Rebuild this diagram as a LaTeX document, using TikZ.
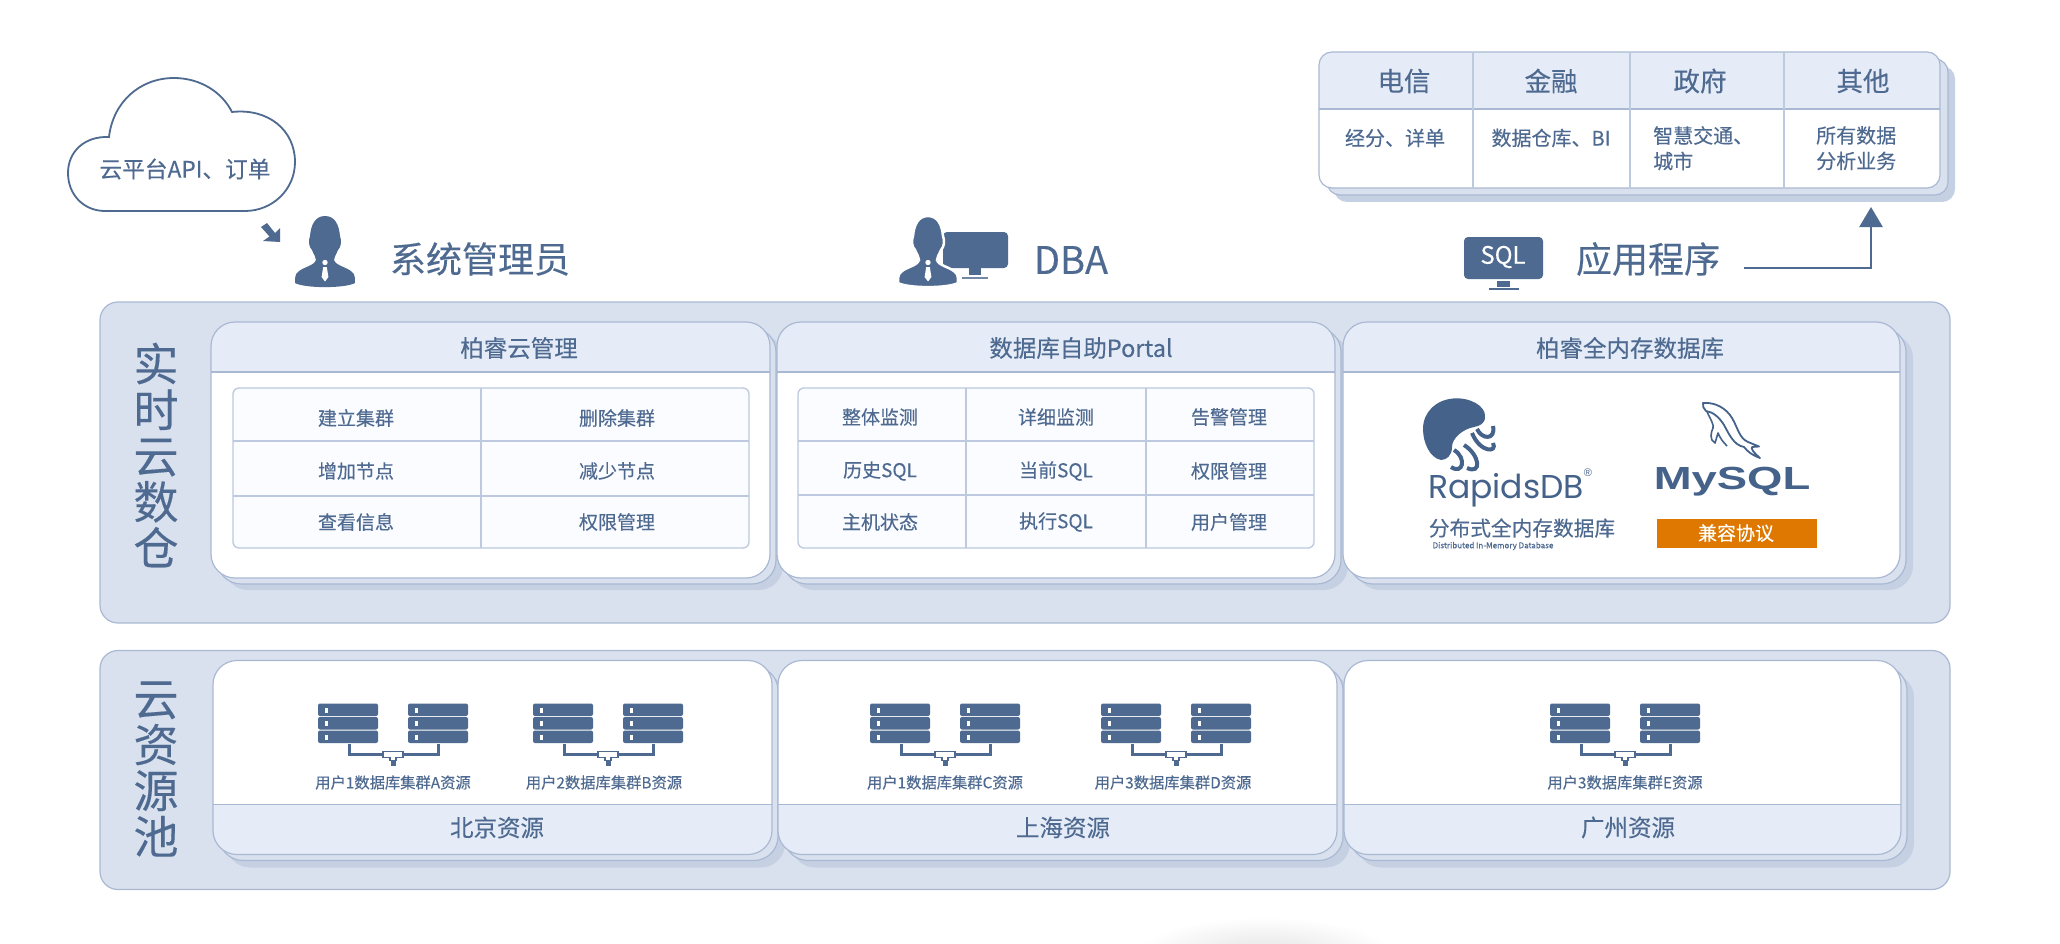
\documentclass[tikz,border=0pt]{standalone}
\usepackage{fontspec}
\setmainfont[FakeBold=0.25]{Noto Sans CJK SC}
\newfontfamily\logofont{Poppins}
\newfontfamily\mysqlfont{Liberation Sans}
\usetikzlibrary{arrows.meta}
\definecolor{ink}{HTML}{4E6A90}
\definecolor{logoink}{HTML}{44628A}
\definecolor{panelc}{HTML}{DAE1EE}
\definecolor{edgec}{HTML}{A9B9D3}
\definecolor{headc}{HTML}{E5ECF7}
\definecolor{shadowc}{HTML}{C5D0E3}
\definecolor{cellc}{HTML}{FBFCFF}
\definecolor{gridc}{HTML}{BCC9DE}
\definecolor{orangec}{HTML}{DE7800}
\tikzset{
  sz/.style={font=\fontsize{#1}{#1}\selectfont},
  txt/.style={text=ink,inner sep=0pt,sz=#1},
  edge/.style={draw=edgec,line width=1.2pt},
  grid/.style={draw=gridc,line width=1.3pt},
  conn/.style={draw=ink,line width=2.5pt,-{Triangle[width=23pt,length=20pt]}}
}
% #1-#4 box, #5 radius, #6 dx2, #7 dy2, #8 dx1, #9 dy1 of the layers
\newcommand{\layers}[9]{%
  \begin{scope}[shift={(#6,#7)}]\fill[shadowc,rounded corners=#5pt] (#1,#2) rectangle (#3,#4);\end{scope}
  \begin{scope}[shift={(#8,#9)}]\filldraw[fill=panelc,edge,rounded corners=#5pt] (#1,#2) rectangle (#3,#4);\end{scope}
  \fill[white,rounded corners=#5pt] (#1,#2) rectangle (#3,#4);}
% #1-#4 box, #5 radius, #6,#7 the y range of the tinted band, #8 y of rule
\newcommand{\bandbox}[8]{%
  \begin{scope}\clip[rounded corners=#5pt] (#1,#2) rectangle (#3,#4);\fill[headc] (#1,#6) rectangle (#3,#7);\end{scope}
  \draw[edge] (#1,#8) -- (#3,#8);
  \draw[edge,rounded corners=#5pt] (#1,#2) rectangle (#3,#4);}
% #1 centre x of a pair of server stacks
\newcommand{\rackrow}[2]{\fill[ink,rounded corners=2pt] (#1,#2) rectangle ++(60,12.5);\fill[white] (#1+6.5,#2+4) rectangle ++(3.5,5);}
\newcommand{\servers}[1]{%
  \foreach \yy in {702,715.5,729}{\rackrow{#1-75}{\yy}\rackrow{#1+15}{\yy}}
  \draw[ink,line width=3pt] (#1-44,742) -- (#1-44,753) -- (#1+45,753) -- (#1+45,742);
  \fill[ink] (#1-2.5,757) rectangle (#1+2.5,764);
  \filldraw[fill=white,draw=ink,line width=1.3pt] (#1-10,750) -- (#1+10,750) -- (#1+10,756) -- (#1+3,756) -- (#1+3,759) -- (#1-3,759) -- (#1-3,756) -- (#1-10,756) -- cycle;}
% silhouette with head centred on x=0
\newcommand{\personpath}{(0,216) .. controls (10,216) and (14,225) .. (15,236) .. controls (17,241) and (16,247) .. (13,250) .. controls (11,255) and (9,257) .. (9,260) .. controls (11,266) and (22,267) .. (27,272) .. controls (30,274) and (30,278) .. (30,283) .. controls (20,288.5) and (-20,288.5) .. (-30,283) .. controls (-30,278) and (-30,274) .. (-27,272) .. controls (-22,267) and (-11,266) .. (-9,260) .. controls (-9,257) and (-11,255) .. (-13,250) .. controls (-16,247) and (-17,241) .. (-15,236) .. controls (-14,225) and (-10,216) .. (0,216) -- cycle}
\newcommand{\tiepath}{(0,262.5) circle (2.7pt) (-1.8,267) -- (1.8,267) -- (3.4,277) -- (0,281.5) -- (-3.4,277) -- cycle}
\begin{document}
\begin{tikzpicture}[x=1pt,y=-1pt]
\useasboundingbox (0,0) rectangle (2060,944);
\fill[white] (0,0) rectangle (2060,944);
% faint glow at the foot
\begin{scope}
\clip (1100,905) rectangle (1430,944);
\shade[inner color=black!11,outer color=white] (1265,955) ellipse (128pt and 38pt);
\end{scope}
% cloud
\draw[ink,line width=1.8pt,fill=white] (109,137) .. controls (113,102) and (140,78) .. (174,78) .. controls (200,78) and (222,92) .. (232,112) .. controls (268,108) and (295,130) .. (295,162) .. controls (295,190) and (272,211) .. (245,211) -- (105,211) .. controls (84,211) and (68,195) .. (68,173) .. controls (68,152) and (84,136) .. (109,137) -- cycle;
\node[txt=22.7] (cloudtext) at (185,169) {云平台API、订单};
\fill[ink] (280,228) -- (280,242) -- (263,241) -- (269.5,236.5) -- (261,227) -- (267,223) -- (275,233) -- cycle;
% admin
\begin{scope}[shift={(325,0)}]
\fill[ink] \personpath;
\fill[white] \tiepath;
\end{scope}
\node[txt=36] (admin) at (480,259) {系统管理员};
% dba
\fill[ink,rounded corners=4pt] (943,232) rectangle (1008,268);
\fill[ink] (969,268) rectangle (981,275);
\fill[ink!80] (962,276.5) rectangle (988,278.5);
\begin{scope}[shift={(928,0)}]
\filldraw[fill=ink,draw=white,line width=2.5pt] \personpath;
\fill[white] \tiepath;
\end{scope}
\node[txt=38] (dba) at (1071,260) {DBA};
% application
\fill[ink,rounded corners=4pt] (1464,237) rectangle (1543,279);
\fill[ink] (1497,281) rectangle (1510,287);
\fill[ink] (1489,287.5) rectangle (1519,289.5);
\node[inner sep=0pt,text=white,sz=24] (sql) at (1503,257) {SQL};
\node[txt=36] (appl) at (1648,259) {应用程序};
% panels
\filldraw[fill=panelc,edge,rounded corners=18pt] (100,302) rectangle (1950,623);
\filldraw[fill=panelc,edge,rounded corners=18pt] (100,650.5) rectangle (1950,889.5);
\node[txt=45,align=center,font=\fontsize{45}{46}\selectfont] (sidea) at (156,455) {实\\时\\云\\数\\仓};
\node[txt=45,align=center,font=\fontsize{45}{46}\selectfont] (sideb) at (156,769) {云\\资\\源\\池};
% upper cards
\layers{211}{322}{770}{578}{24}{13}{12}{6}{6}
\bandbox{211}{322}{770}{578}{24}{322}{372}{372}
\layers{777}{322}{1335}{578}{24}{13}{12}{6}{6}
\bandbox{777}{322}{1335}{578}{24}{322}{372}{372}
\layers{1343}{322}{1900}{578}{24}{13}{12}{6}{6}
\bandbox{1343}{322}{1900}{578}{24}{322}{372}{372}
\node[txt=23.5] (hca) at (519,348) {柏睿云管理};
\node[txt=23.5] (hcb) at (1081,348) {数据库自助Portal};
\node[txt=23.5] (hcc) at (1630,348) {柏睿全内存数据库};
% table one
\filldraw[fill=cellc,grid,rounded corners=6pt] (233,388) rectangle (749,548);
\draw[grid] (233,441) -- (749,441) (233,496) -- (749,496) (481,388) -- (481,548);
\foreach \nm/\xx/\yy/\tt in {a/356/418/建立集群,b/617/418/删除集群,c/356/471/增加节点,d/617/471/减少节点,e/356/522/查看信息,f/617/522/权限管理}
  \node[txt=19] (ta\nm) at (\xx,\yy) {\tt};
% table two
\filldraw[fill=cellc,grid,rounded corners=6pt] (798,388) rectangle (1314,548);
\draw[grid] (798,441) -- (1314,441) (798,495) -- (1314,495) (966,388) -- (966,548) (1146,388) -- (1146,548);
\foreach \nm/\xx/\yy/\tt in {a/880/417/整体监测,b/1056/417/详细监测,c/1229/417/告警管理,d/880/471/历史SQL,e/1056/471/当前SQL,f/1229/471/权限管理,g/880/522/主机状态,h/1056/522/执行SQL,i/1229/522/用户管理}
  \node[txt=19] (tb\nm) at (\xx,\yy) {\tt};
% jellyfish
\fill[logoink] (1453,398.5) .. controls (1470,397) and (1486,406) .. (1485,417) .. controls (1485,424) and (1479,426) .. (1474,427) .. controls (1463,429) and (1452,438) .. (1452,447) .. controls (1452,455) and (1447,460) .. (1441,460) .. controls (1430,458) and (1423,443) .. (1423,429) .. controls (1423,412) and (1436,400) .. (1453,398.5) -- cycle;
\draw[logoink,line width=4pt] (1477,429) .. controls (1482,440) and (1496,440) .. (1493,426);
\draw[logoink,line width=4pt] (1472,433) .. controls (1480,453) and (1498,453) .. (1493,443);
\draw[logoink,line width=4pt] (1464,445) .. controls (1480,455) and (1482,475) .. (1467,468);
\draw[logoink,line width=4pt] (1454,450) .. controls (1467,458) and (1463,475) .. (1451,467);
\node[inner sep=0pt,text=logoink,font=\logofont\fontsize{33}{33}\selectfont] (rapids) at (1506,490) {RapidsDB};
\node[inner sep=0pt,text=logoink,font=\mysqlfont\fontsize{11}{11}\selectfont] (rmark) at (1588,473) {®};
\node[txt=20.7] (rcn) at (1522,528) {分布式全内存数据库};
\node[inner sep=0pt,text=ink,font=\fontsize{8}{8}\selectfont] (ren) at (1493,546) {Distributed In-Memory Database};
% dolphin
\draw[logoink,line width=1.8pt,line join=round] (1703,403) .. controls (1715,402) and (1726,408) .. (1732,418) .. controls (1738,428) and (1739,438) .. (1748,442) -- (1759,446.5) -- (1752,447) .. controls (1751,449) and (1753,452) .. (1760,458) .. controls (1752,455) and (1748,452) .. (1744,447) .. controls (1734,445) and (1730,436) .. (1724,425) .. controls (1719,417) and (1713,412) .. (1706,411) .. controls (1704,409) and (1702,406) .. (1703,403) -- cycle;
\draw[logoink,line width=1.6pt,line join=round] (1707,412) .. controls (1711,420) and (1714,425) .. (1713,428) .. controls (1711,432) and (1709,440) .. (1715,443) .. controls (1716,440) and (1717,436) .. (1718,433) .. controls (1720,438) and (1723,442) .. (1727,446);
\node[inner sep=0pt,text=logoink] (mysql) at (1732,482) {\scalebox{1.42}[1]{\mysqlfont\bfseries\fontsize{32}{32}\selectfont MySQL}};
\fill[orangec] (1657,519) rectangle (1817,548);
\node[inner sep=0pt,text=white,sz=19] (compat) at (1736,533) {兼容协议};
% lower cards
\begin{scope}[shift={(0,1.5)}]
\layers{213}{659}{772}{853}{24}{13}{13}{6}{6}
\bandbox{213}{659}{772}{853}{24}{803}{853}{803}
\layers{778}{659}{1337}{853}{24}{13}{13}{6}{6}
\bandbox{778}{659}{1337}{853}{24}{803}{853}{803}
\layers{1344}{659}{1901}{853}{24}{13}{13}{6}{6}
\bandbox{1344}{659}{1901}{853}{24}{803}{853}{803}
\servers{393}\servers{608}\servers{945}\servers{1176}\servers{1625}
\foreach \nm/\xx/\tt in {a/393/用户1数据库集群A资源,b/604/用户2数据库集群B资源,c/945/用户1数据库集群C资源,d/1173/用户3数据库集群D资源,e/1625/用户3数据库集群E资源}
  \node[txt=15.3] (lab\nm) at (\xx,781) {\tt};
\node[txt=23.5] (fa) at (497,826) {北京资源};
\node[txt=23.5] (fb) at (1063,826) {上海资源};
\node[txt=23.5] (fc) at (1628,826) {广州资源};
\end{scope}
% top-right table
\layers{1319}{52}{1940}{188}{13}{15}{14}{8}{7}
\bandbox{1319}{52}{1940}{188}{13}{52}{109}{109}
\draw[grid] (1473,52) -- (1473,188) (1630,52) -- (1630,188) (1784,52) -- (1784,188);
\node[txt=26.5] (ha) at (1404,81) {电信};
\node[txt=26.5] (hb) at (1551,81) {金融};
\node[txt=26.5] (hc) at (1700,81) {政府};
\node[txt=26.5] (hd) at (1863,81) {其他};
\node[txt=20] (ba) at (1395,138) {经分、详单};
\node[txt=20] (bb) at (1551,138) {数据仓库、BI};
\node[txt=20,anchor=north west,align=left,font=\fontsize{20}{25.5}\selectfont] (bc) at (1653,126) {智慧交通、\\城市};
\node[txt=20,anchor=north west,align=left,font=\fontsize{20}{25.5}\selectfont] (bd) at (1816,126) {所有数据\\分析业务};
% connector
\coordinate (appout) at (1744,268);
\coordinate (apptop) at (1871,207);
\draw[conn] (appout) -| (apptop);
\end{tikzpicture}
\end{document}
